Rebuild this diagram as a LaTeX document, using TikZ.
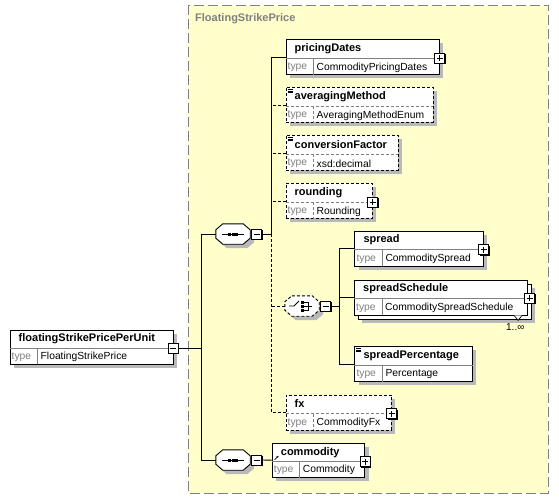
\documentclass[tikz,border=0pt]{standalone}
\usepackage{fontspec}
\setmainfont{Liberation Sans}
\usepackage{tikz}
\usetikzlibrary{shadows,positioning,arrows.meta}

\definecolor{xsdyellow}{RGB}{255,255,204}
\definecolor{xsdgray}{RGB}{128,128,128}
\definecolor{xsdshadow}{RGB}{185,185,185}

\tikzset{
	shd/.style={drop shadow={shadow xshift=4pt,shadow yshift=-4pt,fill=xsdshadow,opacity=1}},
	noshd/.style={shd/.style={}},
	opt/.style={dash pattern=on 3pt off 2pt},
	bgbox/.style={draw=xsdgray,fill=xsdyellow,line width=0.9pt,dash pattern=on 10pt off 4pt},
	title/.style={anchor=west,inner sep=0pt,text=xsdgray,font=\fontsize{11}{13}\selectfont\bfseries},
	elbox/.style={draw,fill=white,rectangle,anchor=north west,minimum height=35pt,inner sep=0pt,line width=0.9pt},
	divline/.style={draw=xsdgray,line width=0.7pt},
	elname/.style={anchor=west,inner sep=0pt,font=\fontsize{11}{13}\selectfont\bfseries},
	elkey/.style={anchor=west,inner sep=0pt,text=xsdgray,font=\fontsize{10.3}{12}\selectfont},
	eltype/.style={anchor=west,inner sep=0pt,font=\fontsize{10.3}{12}\selectfont},
	mult/.style={inner sep=0pt,font=\fontsize{10}{12}\selectfont},
	signbox/.style={draw,fill=white,rectangle,minimum size=10pt,inner sep=0pt,line width=1pt,
		drop shadow={shadow xshift=1pt,shadow yshift=-1pt,fill=black,opacity=1}},
	minusbox/.style={signbox,path picture={
		\draw[line width=1pt] ([xshift=2pt]path picture bounding box.west) -- ([xshift=-2pt]path picture bounding box.east);}},
	plusbox/.style={signbox,path picture={
		\draw[line width=1pt] ([xshift=2pt]path picture bounding box.west) -- ([xshift=-2pt]path picture bounding box.east);
		\draw[line width=1pt] ([yshift=2pt]path picture bounding box.south) -- ([yshift=-2pt]path picture bounding box.north);}},
	comp/.style={rectangle,minimum width=34pt,minimum height=20pt,inner sep=0pt},
	octo/.style={draw,fill=white,line width=0.9pt,shd},
}

% element box: id, options, x, y (top left), width, name, type
\newcommand{\xelem}[7]{%
	\node[elbox,#2,shd,minimum width=#5pt] (#1) at (#3,#4) {};
	\draw[divline,#2] ([yshift=-19pt]#1.north west) -- ([yshift=-19pt]#1.north east);
	\draw[divline,#2] ([xshift=28pt,yshift=-19pt]#1.north west) -- ([xshift=28pt]#1.south west);
	\node[elname] (#1-n) at ([xshift=9pt,yshift=-9.5pt]#1.north west) {#6};
	\node[elkey] (#1-k) at ([xshift=2pt,yshift=7.5pt]#1.south west) {type};
	\node[eltype] (#1-t) at ([xshift=31pt,yshift=7.5pt]#1.south west) {#7};
}

% compositor: id, options, x, y (centre)
\newcommand{\xcomp}[4]{%
	\node[comp] (#1) at (#3,#4) {};
	\draw[octo,#2] ([xshift=7pt]#1.north west) -- ([xshift=-7pt]#1.north east) -- ([yshift=-6pt]#1.north east)
		-- ([yshift=6pt]#1.south east) -- ([xshift=-7pt]#1.south east) -- ([xshift=7pt]#1.south west)
		-- ([yshift=6pt]#1.south west) -- ([yshift=-6pt]#1.north west) -- cycle;
	\node[minusbox,right=1pt of #1] (#1-m) {};
}

\begin{document}
\begin{tikzpicture}[x=1pt,y=-1pt]
	\useasboundingbox (0,0) rectangle (559,499);
	\fill[white] (0,0) rectangle (559,499);
	\draw[bgbox] (188,5) rectangle (548,493);
	\node[title] (ttl) at (195,19) {FloatingStrikePrice};

	% root element
	\xelem{fspu}{minimum height=34pt}{9.5}{329.5}{163}{floatingStrikePricePerUnit}{FloatingStrikePrice}
	\node[minusbox] (fspu-m) at ([yshift=-18.5pt]fspu.north east) {};

	% compositors
	\xcomp{seqa}{}{233}{234}
	\xcomp{seqb}{}{233}{460}
	\xcomp{ch}{opt}{302}{306}
	\foreach \s in {seqa,seqb} {
		\draw[line width=1pt] ([xshift=-11pt]\s.center) -- ([xshift=11pt]\s.center);
		\foreach \d in {-3.6,0,3.6}
			\fill ([xshift=\d pt]\s.center) +(-1.5pt,-1.5pt) rectangle +(1.5pt,1.5pt);
	}
	\draw[line width=0.9pt] ([xshift=-13pt]ch.center) -- ([xshift=-8pt]ch.center) -- ([xshift=-3pt,yshift=5pt]ch.center);
	\foreach \d in {-4,0,4}
		\fill ([xshift=0.5pt,yshift=\d pt]ch.center) +(-1.5pt,-1.5pt) rectangle +(1.5pt,1.5pt);
	\draw[line width=0.9pt] ([xshift=2pt,yshift=4pt]ch.center) -| ([xshift=6pt,yshift=-4pt]ch.center) -- ([xshift=2pt,yshift=-4pt]ch.center);
	\draw[line width=0.9pt] ([xshift=2pt]ch.center) -- ([xshift=10pt]ch.center);

	% sequence children
	\xelem{pd}{}{285.5}{39}{153.5}{pricingDates}{CommodityPricingDates}
	\xelem{am}{opt}{285.5}{87}{147}{averagingMethod}{AveragingMethodEnum}
	\xelem{cf}{opt}{285.5}{135}{112}{conversionFactor}{xsd:decimal}
	\xelem{rd}{opt}{285.5}{183}{86.5}{rounding}{Rounding}
	\xelem{fx}{opt}{285.5}{394.5}{105.5}{fx}{CommodityFx}
	\xelem{cm}{minimum height=34pt}{271.7}{442.7}{92.6}{commodity}{Commodity}

	% choice children
	\xelem{sp}{}{354.3}{230.5}{128.4}{spread}{CommoditySpread}
	\node[elbox,shd,minimum width=172.7pt] (ss-b) at (358,283.5) {};
	\xelem{ss}{noshd}{354}{279.5}{172.7}{spreadSchedule}{CommoditySpreadSchedule}
	\xelem{spp}{}{354.3}{346}{117.4}{spreadPercentage}{Percentage}
	\draw[line width=0.7pt,fill=white] ([xshift=-13.5pt]ss.south east) -- ++(4pt,-5pt) -- ++(4pt,5pt);
	\node[mult,anchor=north east] (ss-c) at ([xshift=-7pt,yshift=-4pt]ss-b.south east) {1..∞};

	\foreach \e in {pd,rd,sp,fx,cm}
		\node[plusbox] (\e-p) at ([yshift=-19pt]\e.north east) {};
	\node[plusbox] (ss-p) at ([xshift=2pt,yshift=-18.5pt]ss.north east) {};

	% simple type marks
	\foreach \e in {am,cf,spp}
		\foreach \k in {2,3.8,5.6}
			\draw[line width=0.6pt] ([xshift=2pt,yshift=-\k pt]\e.north west) -- ++(5pt,0pt);
	\draw[-{Stealth[length=2.5pt]},line width=0.8pt] ([xshift=3pt,yshift=-17pt]cm.north west) -- ++(4pt,4pt);

	% connectors
	\coordinate (tk) at (201.7,0);
	\coordinate (stk) at (271,0);
	\coordinate (ctk) at (339,0);
	\draw[line width=0.9pt] (fspu-m.east) -- (fspu-m.east -| tk);
	\draw[line width=0.9pt] (seqa.west) -| (tk |- seqb.west) -- (seqb.west);
	\draw[line width=0.9pt] (seqa-m.east) -- (seqa-m.east -| stk);
	\draw[line width=0.9pt] (pd.west) -| (stk |- seqa-m.east);
	\draw[line width=0.9pt,opt] (stk |- seqa-m.east) |- (fx.west);
	\foreach \e in {am,cf,rd,ch}
		\draw[line width=0.9pt,opt] (\e.west) -- (\e.west -| stk);
	\draw[line width=0.9pt] (ch-m.east) -- (ch-m.east -| ctk);
	\draw[line width=0.9pt] (sp.west) -| (ctk |- spp.west) -- (spp.west);
	\draw[line width=0.9pt] (ss.west) -- (ss.west -| ctk);
	\draw[line width=0.9pt] (seqb-m.east) -- (cm.west);
\end{tikzpicture}
\end{document}
